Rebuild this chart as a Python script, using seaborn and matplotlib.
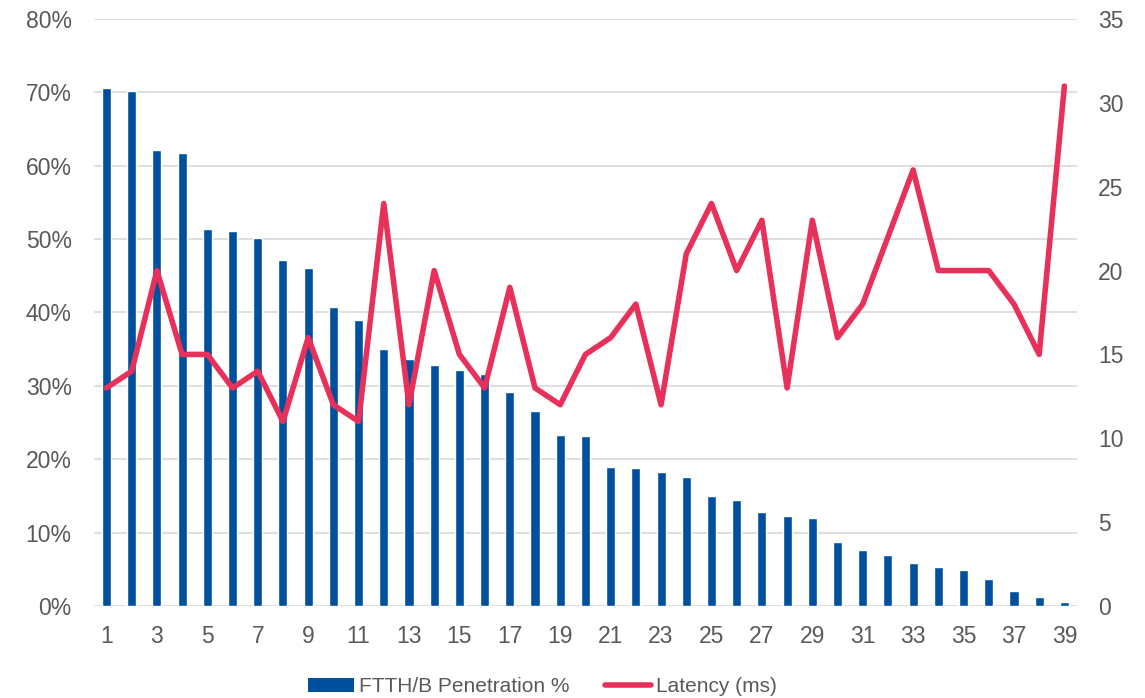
import numpy as np
import pandas as pd
import seaborn as sns
import matplotlib.pyplot as plt
from matplotlib.patches import Patch
from matplotlib.lines import Line2D
from matplotlib.ticker import FuncFormatter

# 數據
countries = list(range(1, 40))
penetration = [70.6, 70.2, 62.2, 61.7, 51.4, 51.1, 50.1, 47.2, 46.0, 40.7,
               39.0, 35.0, 33.6, 32.8, 32.1, 31.6, 29.1, 26.6, 23.3, 23.2,
               19.0, 18.8, 18.3, 17.6, 15.0, 14.4, 12.8, 12.2, 12.0, 8.7,
               7.6, 7.0, 5.8, 5.3, 4.9, 3.7, 2.0, 1.2, 0.5]
latency = [13, 14, 20, 15, 15, 13, 14, 11, 16, 12,
           11, 24, 12, 20, 15, 13, 19, 13, 12, 15,
           16, 18, 12, 21, 24, 20, 23, 13, 23, 16,
           18, 22, 26, 20, 20, 20, 18, 15, 31]
bar_label = "FTTH/B Penetration %"
line_label = "Latency (ms)"

bar_color = "#00509E"
line_color = "#E8315A"
text_color = "#595959"
grid_color = "#D9D9D9"

df = pd.DataFrame({"n": countries, "pen": penetration, "lat": latency})

sns.set_style("white")
plt.rcParams['font.family'] = ['Liberation Sans', 'DejaVu Sans']

fig = plt.figure(figsize=(11.45, 6.98), dpi=100)
ax = fig.add_axes([0.082, 0.1318, 0.8586, 0.841])

sns.barplot(data=df, x="n", y="pen", native_scale=True, width=0.36,
            color=bar_color, saturation=1, ax=ax, zorder=2)
ax.set_ylim(0, 80)
ax.set_xlim(0.5, 39.5)
ax.set_yticks(np.arange(0, 81, 10))
ax.yaxis.set_major_formatter(FuncFormatter(lambda v, p: f"{int(v)}%"))
ax.set_xticks(countries[::2])
ax.grid(axis='y', color=grid_color, linewidth=1.2, zorder=0)
ax.set_axisbelow(True)
ax.set_xlabel("")
ax.set_ylabel("")
for s in ax.spines.values():
    s.set_visible(False)
ax.tick_params(axis='y', length=0, pad=16, labelsize=16.5, labelcolor=text_color)
ax.tick_params(axis='x', length=0, pad=14, labelsize=16.5, labelcolor=text_color)

ax2 = ax.twinx()
sns.lineplot(data=df, x="n", y="lat", color=line_color, linewidth=4,
             ax=ax2, solid_joinstyle='round', solid_capstyle='round')
ax2.set_ylim(0, 35)
ax2.set_yticks(np.arange(0, 36, 5))
ax2.set_xlim(0.5, 39.5)
ax2.set_ylabel("")
ax2.set_xlabel("")
for s in ax2.spines.values():
    s.set_visible(False)
ax2.tick_params(axis='y', length=0, pad=15, labelsize=16.5, labelcolor=text_color)

handles = [Patch(facecolor=bar_color, edgecolor='none'),
           Line2D([0], [0], color=line_color, linewidth=4, solid_capstyle='round')]
leg = fig.legend(handles, [bar_label, line_label], loc='center',
                 bbox_to_anchor=(0.474, 0.016), ncol=2, frameon=False,
                 fontsize=15, handlelength=2.2, handleheight=0.6,
                 handletextpad=0.25, columnspacing=1.7)
for t in leg.get_texts():
    t.set_color(text_color)

plt.savefig("out.png", dpi=100)
